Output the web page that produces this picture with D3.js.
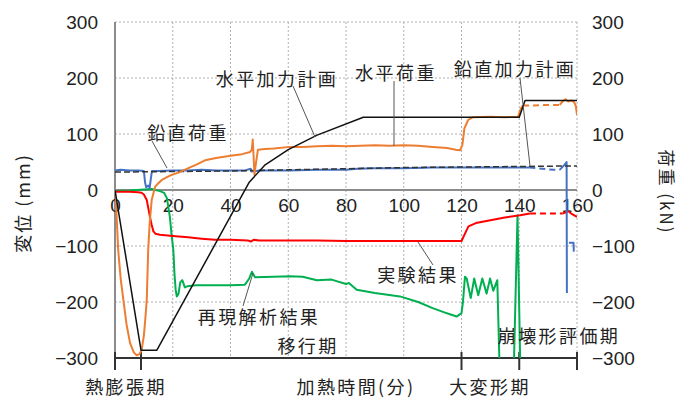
<!DOCTYPE html>
<html lang="ja">
<head>
<meta charset="utf-8">
<script src="https://cdn.jsdelivr.net/npm/d3@7"></script>
<style>
  html, body { margin: 0; padding: 0; background: #fff; }
  svg { display: block; }
  .num { font-family: "Liberation Sans", Arial, sans-serif; font-size: 19px; fill: #222; }
  .jp { font-family: "Noto Sans CJK JP", sans-serif; font-size: 18px; fill: #222; letter-spacing: 2.4px; }
</style>
</head>
<body>
<svg id="chart" width="681" height="399"></svg>
<script>
// ---- axis ticks ----
const xTicks = [0, 20, 40, 60, 80, 100, 120, 140, 160];
const yTicks = [300, 200, 100, 0, -100, -200, -300];
const phaseBounds = [0, 9, 120, 140, 160];

// ---- vertical load, measured (blue) ----
const vLoadSolid = [[0,35],[2,36],[5,35],[8,35],[10,34],[10.4,14],[10.8,5],[11.5,8],[12,4],[12.4,20],[12.8,34],[15,34],[20,35],[25,35],[30,36],[35,35],[40,35],[45,35],[47,38],[47.2,33],[50,35],[60,35],[70,36],[80,36],[84,38],[90,39],[100,39],[110,40],[120,40],[130,40],[140,40],[143.5,40]];
const vLoadDashed = [[143.5,40],[148,38],[152,36],[154,36]];
const vLoadEnd = [[154,36],[155.5,44],[156.4,50],[156.5,-184]];
const vLoadTail = [[157.2,-94],[158.8,-94],[158.9,-110]];

// ---- vertical loading plan (black dashed) ----
const vPlan = [[0,32],[20,33],[40,34],[60,36],[80,38],[100,40],[120,41],[140,42],[160,43]];

// ---- horizontal load, measured (orange) ----
const hLoadSolid = [[0,0],[0.5,-40],[1.1,-107],[2,-160],[2.9,-196],[4,-240],[5.2,-273],[6.5,-290],[7.5,-295],[8.5,-293],[9.2,-286],[10,-260],[10.5,-230],[11,-196],[11.5,-107],[12,-60],[12.7,-18],[13.9,6],[15,12],[16.2,18],[18,23],[19.6,27],[22,31],[25.4,39],[28,45],[31.2,53],[35,57],[40,61],[44,64],[46.8,68],[47.4,72],[47.7,90],[48,60],[48.3,27],[48.6,40],[49.5,72],[52,73],[55,74],[60.6,77],[65,77],[70,78],[75,79],[80,78],[85,79],[90,80],[95,79],[100,80],[105,79],[110,77],[115,75],[118,72],[119.5,71],[120.3,80],[121,110],[122.3,125],[124,130],[130,131],[135,130],[139.6,131],[140.5,145],[141.3,151]];
const hLoadDashed = [[141.3,151],[145,151],[150,152],[154,152]];
const hLoadEnd = [[154,152],[155,158],[156,162],[157,158],[158,160],[159,157],[159.6,150],[160,134]];

// ---- horizontal loading plan (black solid) ----
const hPlan = [[0,0],[9,-286],[14.5,-286],[46.5,14],[52,45],[60,72],[70,98],[86,130],[140,130],[142,160],[160,160]];

// ---- test result (red) ----
const testSolid = [[0,-3],[5,-3],[8,-4],[9.2,-5],[10,-8],[11,-18],[12.1,-48],[12.7,-62],[13.3,-74],[14,-78],[15.6,-80],[20,-82],[25.3,-84.5],[30,-87],[34.6,-89],[40,-89],[46,-90],[47,-92],[48,-89],[50,-90],[60,-90],[70,-90],[80,-91],[90,-91],[100,-91],[110,-91],[120,-91],[121,-80],[122.4,-65],[125,-59],[130,-54],[135,-49],[140.3,-45],[143.7,-42]];
const testDashed = [[143.7,-42],[150,-42],[155,-42]];
const testEnd = [[155,-42],[157,-38],[158,-42],[160,-48]];

// ---- reproduction analysis (green) ----
const simMain = [[0,-2],[5,-1],[10,1],[12.7,2],[14,0],[15.6,-2],[17,-5],[18,-15],[19,-48],[19.6,-80],[20.2,-107],[20.6,-150],[21,-178],[21.4,-190],[22,-185],[22.6,-165],[23.3,-161],[24.2,-174],[25,-172],[28,-170],[35,-170],[40,-170],[45,-169],[46.5,-158],[47.4,-146],[48.5,-156],[55,-155],[60.6,-154],[65,-155],[69.9,-161],[75,-160],[80,-168],[81,-166],[83.7,-178],[90,-184],[98.7,-190],[105,-200],[110,-211],[114.3,-219],[116,-222],[118.3,-226],[120,-220],[120.5,-200],[121.2,-155],[121.8,-158],[123.2,-193],[124.4,-158],[125.8,-188],[127.2,-158],[128.7,-185],[129.9,-158],[131,-180],[132.4,-161],[133.1,-300]];
const simSpike = [[138.2,-300],[139.4,-45],[140.3,-300]];

const svg = d3.select("#chart");
const x = d3.scaleLinear().domain([0, 160]).range([115, 577]);
const y = d3.scaleLinear().domain([-300, 300]).range([358, 22]);

// grid
const grid = svg.append("g");
grid.selectAll("line.h").data(yTicks.filter(v => v !== 0 && v !== -300)).join("line")
  .attr("x1", x(0)).attr("x2", x(160)).attr("y1", d => y(d)).attr("y2", d => y(d))
  .attr("stroke", "#b0b0b0").attr("stroke-width", 1).attr("stroke-dasharray", "2,2");
grid.selectAll("line.v").data(xTicks.filter(v => v !== 0)).join("line")
  .attr("x1", d => x(d)).attr("x2", d => x(d)).attr("y1", y(300)).attr("y2", y(-300))
  .attr("stroke", "#b0b0b0").attr("stroke-width", 1).attr("stroke-dasharray", "2,2");

// zero line and left axis line
svg.append("line").attr("x1", x(0)).attr("x2", x(160)).attr("y1", y(0)).attr("y2", y(0))
  .attr("stroke", "#8c8c8c").attr("stroke-width", 2);
svg.append("line").attr("x1", x(0)).attr("x2", x(0)).attr("y1", y(300)).attr("y2", y(-300))
  .attr("stroke", "#8c8c8c").attr("stroke-width", 2);

// left axis labels
const yl = svg.append("g").attr("transform", `translate(${x(0)},0)`)
  .call(d3.axisLeft(y).tickValues(yTicks).tickSize(0).tickPadding(17));
yl.select(".domain").remove();
yl.selectAll("text").attr("class", "num").attr("font-family", null).attr("font-size", null);

// right axis labels
const yr = svg.append("g").attr("transform", `translate(${x(160)},0)`)
  .call(d3.axisRight(y).tickValues(yTicks).tickSize(0).tickPadding(15));
yr.select(".domain").remove();
yr.selectAll("text").attr("class", "num").attr("font-family", null).attr("font-size", null);

// x tick labels just below zero line
const xa = svg.append("g").attr("transform", `translate(0,${y(0)})`)
  .call(d3.axisBottom(x).tickValues(xTicks).tickSize(0).tickPadding(9));
xa.select(".domain").remove();
xa.selectAll("text").attr("class", "num").attr("font-family", null).attr("font-size", null);

// phase bar along the bottom
svg.append("line").attr("x1", x(0)).attr("x2", x(160)).attr("y1", y(-300)).attr("y2", y(-300))
  .attr("stroke", "#333").attr("stroke-width", 2);
svg.selectAll("line.phase").data(phaseBounds).join("line")
  .attr("x1", d => x(d)).attr("x2", d => x(d)).attr("y1", y(-300) - 6).attr("y2", y(-300) + 12)
  .attr("stroke", "#333").attr("stroke-width", 2);

// series
svg.append("clipPath").attr("id", "plot").append("rect")
  .attr("x", x(0)).attr("y", y(300)).attr("width", x(160) - x(0)).attr("height", y(-300) - y(300));
const plot = svg.append("g").attr("clip-path", "url(#plot)");
const line = d3.line().x(d => x(d[0])).y(d => y(d[1]));
function draw(data, color, width, dash) {
  plot.append("path").datum(data).attr("d", line)
    .attr("fill", "none").attr("stroke", color).attr("stroke-width", width)
    .attr("stroke-linejoin", "round").attr("stroke-dasharray", dash || null);
}
const BLUE = "#4472c4", ORANGE = "#ed7d31", RED = "#ff0000", GREEN = "#00b050";
draw(simMain, GREEN, 2);
draw(simSpike, GREEN, 2);
draw(testSolid, RED, 2);
draw(testDashed, RED, 2, "6,4");
draw(testEnd, RED, 2);
draw(vLoadSolid, BLUE, 2);
draw(vLoadDashed, BLUE, 2, "6,4");
draw(vLoadEnd, BLUE, 2);
draw(vLoadTail, BLUE, 2);
draw(vPlan, "#333", 1.5, "6,3");
draw(hLoadSolid, ORANGE, 2);
draw(hLoadDashed, ORANGE, 2, "6,4");
draw(hLoadEnd, ORANGE, 2);
draw(hPlan, "#111", 1.5);

// leader lines
const leaders = [
  [152, 141, 167, 168],
  [293, 86, 315, 137],
  [394, 81, 394, 146],
  [520, 78, 530, 166],
  [418, 242, 433, 265],
  [243, 306, 253, 273]
];
svg.selectAll("line.leader").data(leaders).join("line")
  .attr("x1", d => d[0]).attr("y1", d => d[1]).attr("x2", d => d[2]).attr("y2", d => d[3])
  .attr("stroke", "#555").attr("stroke-width", 1);

// annotations
const labels = [
  ["鉛直荷重", 188, 132],
  ["水平加力計画", 277, 78],
  ["水平荷重", 396, 72],
  ["鉛直加力計画", 515, 68],
  ["実験結果", 418, 274],
  ["再現解析結果", 259, 316],
  ["移行期", 308, 345],
  ["崩壊形評価期", 559, 335],
  ["熱膨張期", 126, 386],
  ["加熱時間(分)", 356, 386],
  ["大変形期", 490, 386]
];
svg.selectAll("text.lab").data(labels).join("text")
  .attr("class", "jp").attr("x", d => d[1]).attr("y", d => d[2])
  .attr("text-anchor", "middle").attr("dominant-baseline", "central")
  .text(d => d[0]);

// axis titles
svg.append("text").attr("class", "jp").attr("transform", "translate(22,203) rotate(-90)")
  .attr("text-anchor", "middle").attr("dominant-baseline", "central")
  .style("font-size", "18px").style("letter-spacing", "2px").text("変位 (mm)");
svg.append("text").attr("class", "jp").attr("transform", "translate(667,192) rotate(90)")
  .attr("text-anchor", "middle").attr("dominant-baseline", "central")
  .style("font-size", "17px").style("letter-spacing", "2px").text("荷重 (kN)");
</script>
</body>
</html>
